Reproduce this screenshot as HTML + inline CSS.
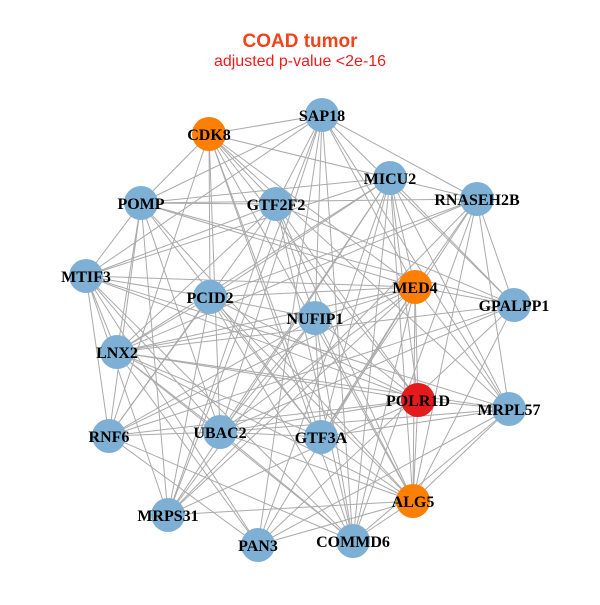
<!DOCTYPE html>
<html><head><meta charset="utf-8"><style>
html,body{margin:0;padding:0;background:#fff;}
svg text{font-family:"Liberation Serif",serif;font-weight:bold;font-size:16px;fill:#000;}
</style></head><body>
<svg id="s" width="600" height="600" xmlns="http://www.w3.org/2000/svg">
<rect width="600" height="600" fill="#fff"/>
<text x="300" y="47" text-anchor="middle" style="font-family:'Liberation Sans',sans-serif;font-size:19px;font-weight:bold;fill:#f0441a">COAD tumor</text>
<text x="300" y="66" text-anchor="middle" style="font-family:'Liberation Sans',sans-serif;font-size:16px;font-weight:normal;fill:#f01c1c">adjusted p-value &lt;2e-16</text>
<g id="edges" stroke="#aaaaaa" stroke-width="1"></g>
<g id="nodes">
<circle cx="322" cy="115" r="17" fill="#7eb0d5"/><text x="322" y="121" text-anchor="middle">SAP18</text>
<circle cx="209" cy="134" r="17" fill="#ff7f00"/><text x="209" y="140" text-anchor="middle">CDK8</text>
<circle cx="390" cy="178" r="17" fill="#7eb0d5"/><text x="390" y="184" text-anchor="middle">MICU2</text>
<circle cx="477" cy="199" r="17" fill="#7eb0d5"/><text x="477" y="205" text-anchor="middle">RNASEH2B</text>
<circle cx="141" cy="203" r="17" fill="#7eb0d5"/><text x="141" y="209" text-anchor="middle">POMP</text>
<circle cx="276" cy="204" r="17" fill="#7eb0d5"/><text x="276" y="210" text-anchor="middle">GTF2F2</text>
<circle cx="86" cy="276" r="17" fill="#7eb0d5"/><text x="86" y="282" text-anchor="middle">MTIF3</text>
<circle cx="415" cy="287" r="17" fill="#ff7f00"/><text x="415" y="293" text-anchor="middle">MED4</text>
<circle cx="514" cy="305" r="17" fill="#7eb0d5"/><text x="514" y="311" text-anchor="middle">GPALPP1</text>
<circle cx="210" cy="297" r="17" fill="#7eb0d5"/><text x="210" y="303" text-anchor="middle">PCID2</text>
<circle cx="315" cy="318" r="17" fill="#7eb0d5"/><text x="315" y="324" text-anchor="middle">NUFIP1</text>
<circle cx="117" cy="352" r="17" fill="#7eb0d5"/><text x="117" y="358" text-anchor="middle">LNX2</text>
<circle cx="418" cy="400" r="17" fill="#e41a1c"/><text x="418" y="406" text-anchor="middle">POLR1D</text>
<circle cx="509" cy="409" r="17" fill="#7eb0d5"/><text x="509" y="415" text-anchor="middle">MRPL57</text>
<circle cx="109" cy="436" r="17" fill="#7eb0d5"/><text x="109" y="442" text-anchor="middle">RNF6</text>
<circle cx="220" cy="432" r="17" fill="#7eb0d5"/><text x="220" y="438" text-anchor="middle">UBAC2</text>
<circle cx="321" cy="437" r="17" fill="#7eb0d5"/><text x="321" y="443" text-anchor="middle">GTF3A</text>
<circle cx="413" cy="501" r="17" fill="#ff7f00"/><text x="413" y="507" text-anchor="middle">ALG5</text>
<circle cx="168" cy="515" r="17" fill="#7eb0d5"/><text x="168" y="521" text-anchor="middle">MRPS31</text>
<circle cx="353" cy="541" r="17" fill="#7eb0d5"/><text x="353" y="547" text-anchor="middle">COMMD6</text>
<circle cx="258" cy="545" r="17" fill="#7eb0d5"/><text x="258" y="551" text-anchor="middle">PAN3</text>
</g>
</svg>
<script>
var P=[[322,115],[209,134],[390,178],[477,199],[141,203],[276,204],[86,276],[415,287],[514,305],[210,297],[315,318],[117,352],[418,400],[509,409],[109,436],[220,432],[321,437],[413,501],[168,515],[353,541],[258,545]];
var g=document.getElementById('edges'),seed=7;
function r(){seed=(seed*1103515245+12345)%2147483648;return seed/2147483648;}
for(var i=0;i<P.length;i++)for(var j=i+1;j<P.length;j++){if(r()<0.3)continue;
var l=document.createElementNS('http://www.w3.org/2000/svg','line');
l.setAttribute('x1',P[i][0]);l.setAttribute('y1',P[i][1]);l.setAttribute('x2',P[j][0]);l.setAttribute('y2',P[j][1]);g.appendChild(l);}
</script>
</body></html>
